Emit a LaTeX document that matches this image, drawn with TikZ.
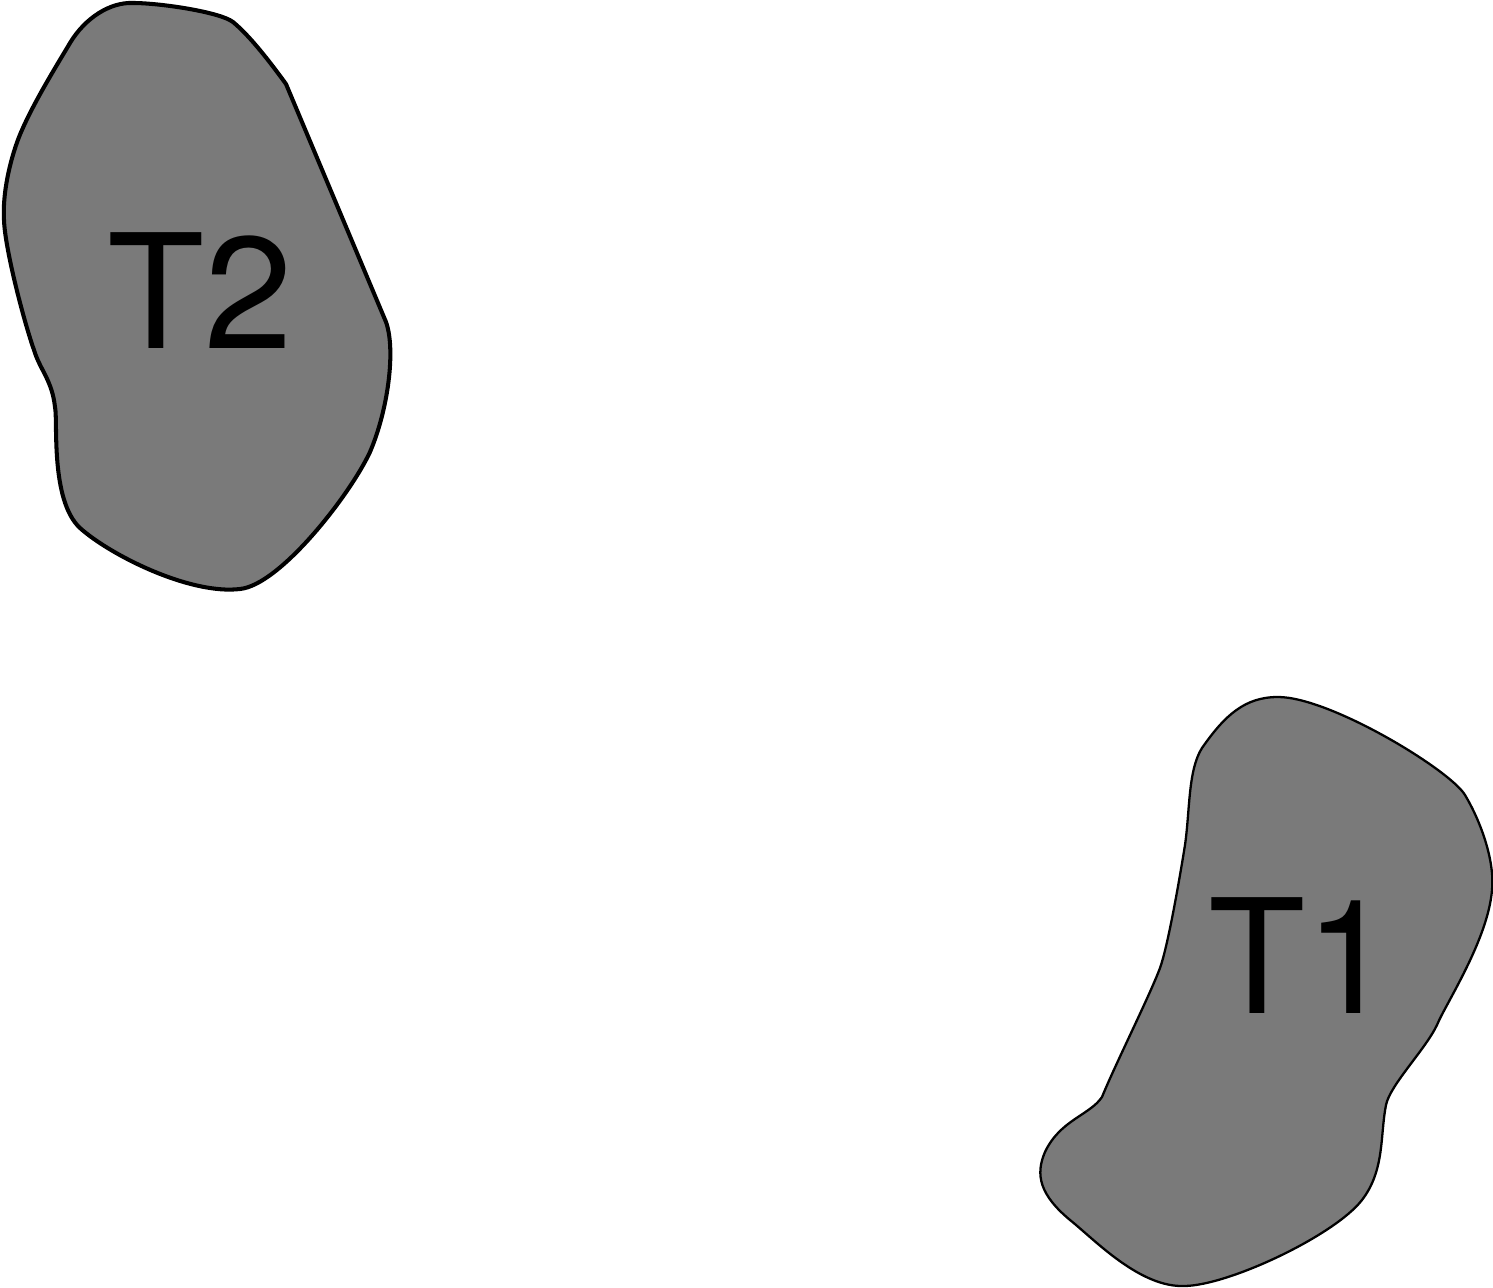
\documentclass[tikz,border=0pt]{standalone}
\usepackage{fontspec}
\setmainfont{TeX Gyre Heros}
\definecolor{blobgray}{RGB}{122,122,122}
\begin{document}
\begin{tikzpicture}[x=0.01cm,y=-0.01cm,
  blob/.style={fill=blobgray,draw=black,line join=round},
  lbl/.style={anchor=base,inner sep=0pt,font=\fontsize{45.2}{50}\selectfont}]
\useasboundingbox (0,0) rectangle (1493,1288);
% T2
\path[blob,line width=1.15pt] (133,3) .. controls (160,3) and (220,12) .. (233,22)
 .. controls (250,36) and (270,62) .. (286,84)
 -- (386,322)
 .. controls (396,350) and (388,410) .. (370,452)
 .. controls (350,495) and (280,585) .. (240,589)
 .. controls (190,595) and (110,555) .. (80,528)
 .. controls (50,500) and (58,420) .. (55,407)
 .. controls (52,380) and (40,370) .. (34,350)
 .. controls (25,325) and (5,250) .. (4,220)
 .. controls (2,185) and (15,145) .. (22,130)
 .. controls (35,100) and (60,60) .. (70,43)
 .. controls (85,18) and (110,2) .. (133,3) -- cycle;
% T1
\path[blob,line width=0.65pt] (1278,697) .. controls (1330,697) and (1450,770) .. (1465,795)
 .. controls (1480,820) and (1495,860) .. (1492,890)
 .. controls (1488,940) and (1445,1005) .. (1437,1025)
 .. controls (1425,1050) and (1390,1085) .. (1386,1105)
 .. controls (1380,1135) and (1385,1170) .. (1362,1200)
 .. controls (1335,1235) and (1230,1285) .. (1185,1286)
 .. controls (1140,1288) and (1095,1240) .. (1070,1220)
 .. controls (1040,1195) and (1035,1175) .. (1045,1152)
 .. controls (1060,1120) and (1090,1115) .. (1102,1097)
 .. controls (1115,1065) and (1150,995) .. (1160,968)
 .. controls (1170,940) and (1185,845) .. (1185,845)
 .. controls (1190,810) and (1188,770) .. (1202,748)
 .. controls (1225,715) and (1245,697) .. (1278,697) -- cycle;
\node[lbl] (t2) at (200,349) {T2};
\node[lbl] (t1) at (1301,1013) {T1};
\end{tikzpicture}
\end{document}
